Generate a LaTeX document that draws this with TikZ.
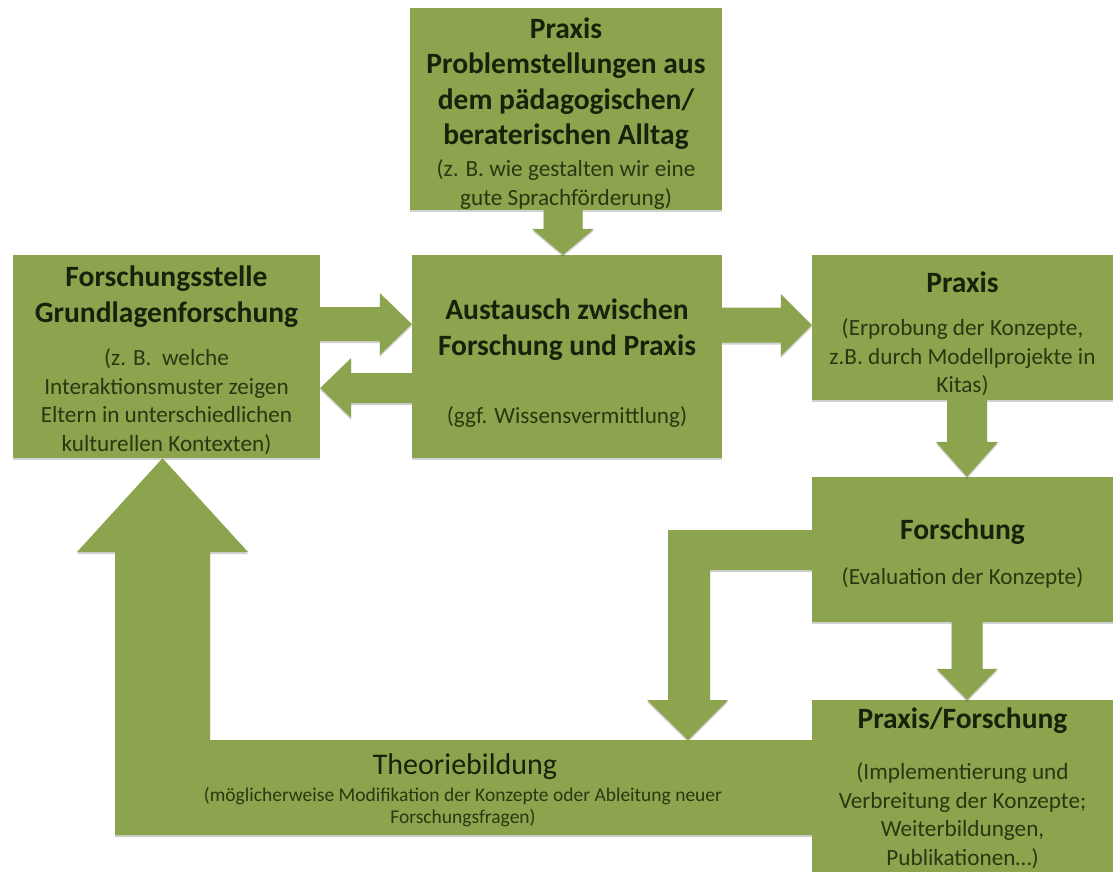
\documentclass[tikz,border=0pt]{standalone}
\usepackage{fontspec}
\setmainfont{Carlito}
\usetikzlibrary{calc,shadows}
\definecolor{boxgreen}{RGB}{140,164,78}
\definecolor{headtext}{RGB}{24,34,10}
\definecolor{subtext}{RGB}{40,56,16}
\tikzset{
  softshadow/.style={drop shadow={shadow xshift=0pt, shadow yshift=-2pt, opacity=0.18, fill=black}},
  box/.style 2 args={fill=boxgreen, draw=none, inner sep=0pt, minimum width=#1, minimum height=#2, softshadow},
  arrowfill/.style={fill=boxgreen, softshadow},
  headtxt/.style={font=\fontsize{29.5}{35.5}\selectfont\bfseries, text=headtext, align=center, inner sep=0pt},
  subtxt/.style={font=\fontsize{23.2}{28.5}\selectfont, text=subtext, align=center, inner sep=0pt},
  theotxt/.style={font=\fontsize{30}{34}\selectfont, text=headtext, align=center, inner sep=0pt},
  theosub/.style={font=\fontsize{19.5}{22.5}\selectfont, text=subtext, align=center, inner sep=0pt}
}
\newcommand{\blockarr}[6]{%
  \coordinate (#1-h) at ($(#3)!#6!(#2)$);
  \fill[arrowfill] ($(#2)!#4!90:(#3)$) -- ($(#1-h)!#4!90:(#3)$) -- ($(#1-h)!#5!90:(#3)$) -- (#3)
    -- ($(#1-h)!#5!-90:(#3)$) -- ($(#1-h)!#4!-90:(#3)$) -- ($(#2)!#4!-90:(#3)$) -- cycle;
}
\begin{document}
\begin{tikzpicture}[x=1pt,y=-1pt]
\useasboundingbox (0,0) rectangle (1113,872);

% boxes
\node[box={312pt}{202pt}] (top) at (566,109) {};
\node[box={307pt}{203pt}] (lb) at (166.5,356.5) {};
\node[box={310pt}{203pt}] (mid) at (567,356.5) {};
\node[box={301pt}{145pt}] (rp) at (962.5,327.5) {};
\node[box={301pt}{145pt}] (fo) at (962.5,549.5) {};
\node[box={301pt}{174pt}] (pf) at (962.5,787) {};

% arrow end points
\coordinate (a0s) at (top.south -| 563,0);
\coordinate (a0e) at (mid.north -| 563,0);
\coordinate (a1s) at (lb.east |- 0,324);
\coordinate (a1e) at (mid.west |- 0,324);
\coordinate (a2s) at (mid.west |- 0,388);
\coordinate (a2e) at (lb.east |- 0,388);
\coordinate (a3s) at (mid.east |- 0,325);
\coordinate (a3e) at (rp.west |- 0,325);
\coordinate (a4s) at (rp.south -| 967,0);
\coordinate (a4e) at (fo.north -| 967,0);
\coordinate (a5s) at (fo.south -| 967,0);
\coordinate (a5e) at (pf.north -| 967,0);

\blockarr{ar0}{a0s}{a0e}{19.5pt}{31pt}{26pt}
\blockarr{ar1}{a1s}{a1e}{17pt}{31pt}{32pt}
\blockarr{ar2}{a2s}{a2e}{15pt}{30pt}{31pt}
\blockarr{ar3}{a3s}{a3e}{17.5pt}{31pt}{31pt}
\blockarr{ar4}{a4s}{a4e}{20pt}{31pt}{35pt}
\blockarr{ar5}{a5s}{a5e}{15.5pt}{30.5pt}{31pt}

% elbow arrow from Forschung down to the Theoriebildung band
\coordinate (eltip) at (688,740);
\fill[arrowfill] (fo.west |- 0,530) -- (668,530) -- (668,700) -- (647,700) -- (eltip)
  -- (728,700) -- (710,700) -- (710,570) -- (fo.west |- 0,570) -- cycle;

% Theoriebildung band with big up arrow to the Grundlagenforschung box
\coordinate (uptip) at (lb.south -| 162.5,0);
\fill[arrowfill] (pf.west |- 0,740) -- (210,740) -- (210,552) -- (248,552) -- (uptip)
  -- (77,552) -- (115,552) -- (115,835) -- (pf.west |- 0,835) -- cycle;

% texts
\node[headtxt] (tph) at (566,83.5) {Praxis\\Problemstellungen aus\\dem pädagogischen/\\beraterischen Alltag};
\node[subtxt] (tps) at (566,184.5) {(z. B. wie gestalten wir eine\\gute Sprachförderung)};

\node[headtxt] (lbh) at (166.5,296.5) {Forschungsstelle\\Grundlagenforschung};
\node[subtxt] (lbs) at (166.5,401.5) {(z. B.\ \ welche\\Interaktionsmuster zeigen\\Eltern in unterschiedlichen\\kulturellen Kontexten)};

\node[headtxt] (mih) at (567,329.5) {Austausch zwischen\\Forschung und Praxis};
\node[subtxt] (mis) at (567,417) {(ggf. Wissensvermittlung)};

\node[headtxt] (rph) at (962.5,282) {Praxis};
\node[subtxt] (rps) at (962.5,357.5) {(Erprobung der Konzepte,\\z.B. durch Modellprojekte in\\Kitas)};

\node[headtxt] (foh) at (962.5,532) {Forschung};
\node[subtxt] (fos) at (962.5,578) {(Evaluation der Konzepte)};

\node[headtxt] (pfh) at (962.5,721) {Praxis/Forschung};
\node[subtxt] (pfs) at (962.5,815.5) {(Implementierung und\\Verbreitung der Konzepte;\\Weiterbildungen,\\Publikationen…)};

\node[theotxt] (thh) at (465,767) {Theoriebildung};
\node[theosub] (ths) at (463,807) {(möglicherweise Modifikation der Konzepte oder Ableitung neuer\\Forschungsfragen)};
\end{tikzpicture}
\end{document}
